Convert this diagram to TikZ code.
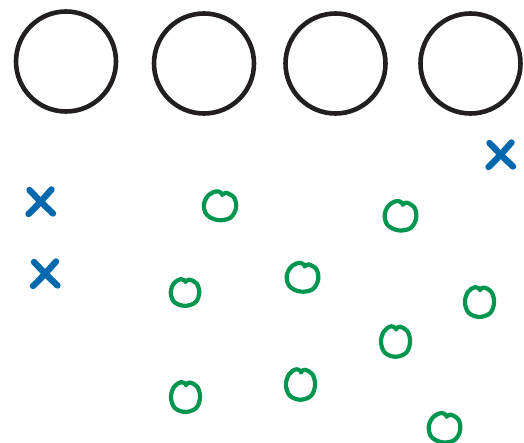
\documentclass[tikz,border=0pt]{standalone}
\usetikzlibrary{calc}
\definecolor{ringblack}{RGB}{35,31,32}
\definecolor{xblue}{RGB}{0,104,173}
\definecolor{ogreen}{RGB}{0,150,80}
\tikzset{
  ring/.style={draw=ringblack, line width=4.6pt},
  xstroke/.style={draw=xblue, line width=6.4pt, line cap=round},
  ostroke/.style={draw=ogreen, line width=4.2pt, line cap=round, line join=round},
  omark/.pic={
    \draw[ostroke] plot[smooth, tension=0.6] coordinates {
      (1,-12) (-4.5,-14.5) (-12,-10) (-15.5,0) (-11.5,10.5) (0,14.5)
      (11.5,10.5) (15.5,0) (12.5,-10) (5,-14) (2,-13) (0.5,-11.5)};
  },
  xmark/.pic={
    \draw[xstroke] (-11.5,-12) .. controls (-3,-3) and (4,4) .. (12,11.5);
    \draw[xstroke] (10.5,-12.5) .. controls (3,-4) and (-5,5) .. (-12.5,12);
  }
}
\begin{document}
\begin{tikzpicture}[x=1pt,y=-1pt]
\useasboundingbox (0,0) rectangle (524,442);
% big circles
\draw[ring] (66,61.5) circle (50);
\draw[ring] (204,63.5) circle (50);
\draw[ring] (335.5,63.5) circle (50);
\draw[ring] (470.5,63.5) circle (50);
% X marks
\pic at (41,202) {xmark};
\pic at (45.5,274) {xmark};
\pic at (501,155) {xmark};
% O marks
\pic[xscale=1.04,yscale=0.98,rotate=-8] at (220,206) {omark};
\pic[xscale=0.92,yscale=0.92] at (185,292.5) {omark};
\pic[xscale=0.94,yscale=1.03] at (185.5,397) {omark};
\pic[xscale=1.02,yscale=1.0,rotate=-8] at (400.5,216) {omark};
\pic[xscale=1.02,yscale=0.98,rotate=-8] at (302.5,277.5) {omark};
\pic[xscale=0.94,yscale=1.03] at (479.5,302) {omark};
\pic[xscale=0.94,yscale=1.05] at (395.5,341.5) {omark};
\pic[xscale=0.94,yscale=1.05] at (300.5,384.5) {omark};
\pic[xscale=1.02,yscale=1.0,rotate=-8] at (444.5,428) {omark};
\end{tikzpicture}
\end{document}
